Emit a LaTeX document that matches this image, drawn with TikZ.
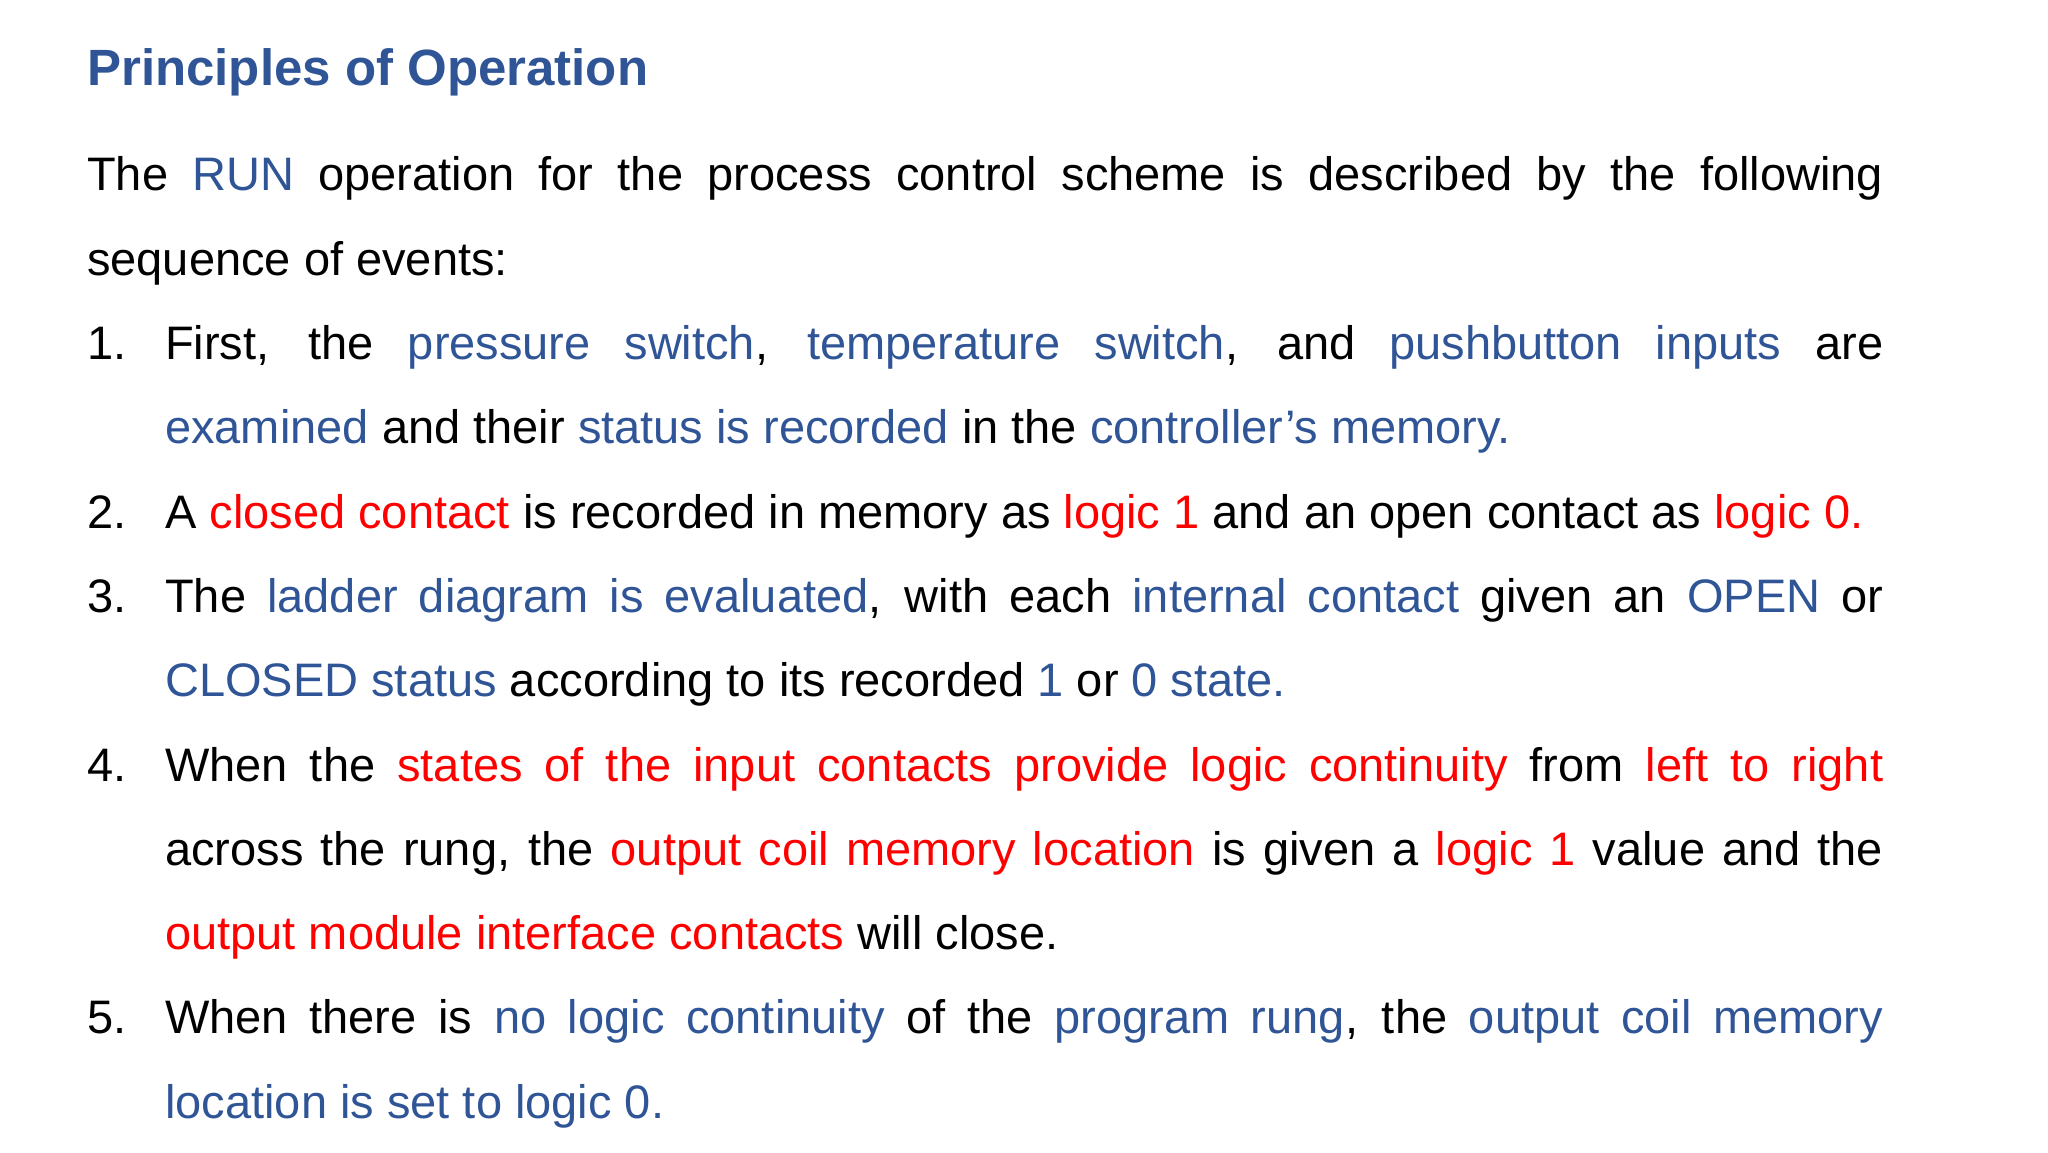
\documentclass[tikz,border=0pt]{standalone}
\usepackage{fontspec}
\setmainfont{Liberation Sans}
\definecolor{bl}{HTML}{2F5597}
\definecolor{rd}{HTML}{FF0000}
\newcommand{\B}[1]{\textcolor{bl}{#1}}
\newcommand{\R}[1]{\textcolor{rd}{#1}}
\newcommand{\itm}[1]{\par\hangindent=78pt\hangafter=1\noindent\makebox[78pt][l]{#1}}
\begin{document}
\begin{tikzpicture}[x=1pt,y=1pt]
\useasboundingbox (0,0) rectangle (2048,1152);
\node[anchor=base west,inner sep=0,font=\fontsize{51}{56}\selectfont\bfseries,text=bl] (title) at (87,1066) {Principles of Operation};
\node[anchor=base west,inner sep=0,text width=1796pt,align=justify,font=\fontsize{47}{84.3}\selectfont] (body) at (87,961) {%
\parindent=0pt\parskip=0pt\lineskiplimit=-100pt
The \B{RUN} operation for the process control scheme is described by the following\linebreak
sequence of events:
\itm{1.}First, the \B{pressure switch}, \B{temperature switch}, and \B{pushbutton inputs} are\linebreak
\B{examined} and their \B{status is recorded} in the \B{controller’s memory.}
\itm{2.}A \R{closed contact} is recorded in memory as \R{logic 1} and an open contact as \R{logic 0.}
\itm{3.}The \B{ladder diagram is evaluated}, with each \B{internal contact} given an \B{OPEN} or\linebreak
\B{CLOSED status} according to its recorded \B{1} or \B{0 state.}
\itm{4.}When the \R{states of the input contacts provide logic continuity} from \R{left to right}\linebreak
across the rung, the \R{output coil memory location} is given a \R{logic 1} value and the\linebreak
\R{output module interface contacts} will close.
\itm{5.}When there is \B{no logic continuity} of the \B{program rung}, the \B{output coil memory}\linebreak
\B{location is set to logic 0.}\par};
\end{tikzpicture}
\end{document}
